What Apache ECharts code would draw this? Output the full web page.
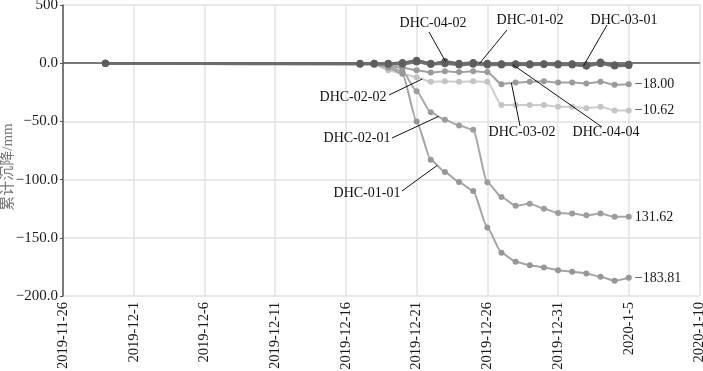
<!DOCTYPE html>
<html><head><meta charset="utf-8">
<script src="https://cdn.jsdelivr.net/npm/echarts@6/dist/echarts.min.js"></script>
<style>html,body{margin:0;padding:0;background:#fff}#c{width:703px;height:371px}</style>
</head><body><div id="c"></div>
<script>
// ---------- data ----------
const dates = ['2019-11-29','2019-12-17','2019-12-18','2019-12-19','2019-12-20','2019-12-21','2019-12-22','2019-12-23','2019-12-24','2019-12-25','2019-12-26','2019-12-27','2019-12-28','2019-12-29','2019-12-30','2019-12-31','2020-01-01','2020-01-02','2020-01-03','2020-01-04','2020-01-05'];
const dhc0202 = [0, 0, -1, -6, -9, -12, -16, -15.5, -16, -15.5, -16, -36, -36, -36, -36, -37.4, -37.4, -38.6, -37.4, -40.7, -40.7];
const dhc0302 = [0, 0, -0.5, -2, -4, -6, -8, -7, -7.5, -7, -7.5, -18, -16.6, -16, -15.5, -16.6, -16.6, -17.4, -16, -18.6, -18];
const dhc0201 = [0, 0, -1, -3, -7, -24, -42.2, -48.6, -53.5, -57.2, -102.2, -115, -122.4, -120.7, -125, -128.7, -129.2, -130.7, -129.2, -132, -132];
const dhc0101 = [0, 0, -1, -4, -9, -50, -82.9, -93.5, -102.1, -109.8, -141.1, -162.9, -170.6, -173.5, -175.5, -177.8, -179.2, -180.6, -183.5, -186.9, -184.4];
const dhc0402 = [0, -0.5, -0.5, -0.5, 0, 2.5, -0.5, 1.5, 0, 0.5, 0, -1, -1, -1, -1, -1, -1, -1.5, 0.5, -2, -1.5];
const dhc0102 = [0, 0, 0, 0, 0.5, 2, 0, 0.5, -0.5, 0, -0.5, -0.5, -0.5, -0.5, -0.5, -0.5, -1, -2.5, 1, -1.5, -1];
const dhc0301 = [0, -1, -1, -1, -0.5, 1.5, -1, 0, -1, -0.5, -1, -1, -1.5, -1, -1, -1.5, -1.5, -2.5, -0.5, -2.5, -2];
const dhc0404 = [0, -0.5, 0, -0.5, -1, 1, -1, -0.5, -1.5, -1, -1.5, -1.5, -1, -1.5, -1, -1, -0.5, -1.5, 0, -1.5, -1];
const xTickLabels = ['2019-11-26','2019-12-1','2019-12-6','2019-12-11','2019-12-16','2019-12-21','2019-12-26','2019-12-31','2020-1-5','2020-1-10'];
const yTickLabels = ['\u2212200.0','\u2212150.0','\u2212100.0','\u221250.0','0.0','500'];
const endLabels = {'DHC-02-02':'\u221210.62','DHC-03-02':'\u221218.00','DHC-02-01':'131.62','DHC-01-01':'\u2212183.81'};
// annotation: name, anchor day (days after 2019-11-26)
const annNames = ['DHC-04-02','DHC-01-02','DHC-03-01','DHC-02-02','DHC-02-01','DHC-01-01','DHC-03-02','DHC-04-04'];
const annDays  = [27.05, 29.45, 36.8, 25.4, 26.55, 26.46, 31.7, 31.79];

// ---------- layout ----------
const annText  = [[433,23],[530,20],[624,20],[353,97],[357,138],[367,193],[522,132],[606,132]];
const annStart = [[429,32],[507,30],[607,25],[389,95],[392,138],[402,191],[520,126],[602,127]];

const DAY = 86400000;
const origin = Date.parse('2019-11-26T00:00:00Z');
const xs = dates.map(d => (Date.parse(d + 'T00:00:00Z') - origin) / DAY);
const FONT = '"Liberation Serif","Times New Roman",serif';

const seriesDefs = [
  ['DHC-02-02', dhc0202, '#cdcdcd', '#c4c4c4', 6, 2],
  ['DHC-03-02', dhc0302, '#a2a2a2', '#9a9a9a', 6, 2],
  ['DHC-02-01', dhc0201, '#a8a8a8', '#9c9c9c', 6, 2],
  ['DHC-01-01', dhc0101, '#a3a3a3', '#979797', 6, 2],
  ['DHC-04-04', dhc0404, '#7a7a7a', '#6a6a6a', 7, 2.5],
  ['DHC-03-01', dhc0301, '#757575', '#666666', 7, 2.5],
  ['DHC-01-02', dhc0102, '#707070', '#626262', 7, 2.5],
  ['DHC-04-02', dhc0402, '#6c6c6c', '#5e5e5e', 7, 2.5]
];
const seriesMap = {};
seriesDefs.forEach(s => seriesMap[s[0]] = s[1]);

const chart = echarts.init(document.getElementById('c'), null, {renderer: 'canvas'});
const series = seriesDefs.map(([name, vals, lc, pc, ss, lw]) => ({
  name, type: 'line',
  data: vals.map((v, i) => [xs[i], v]),
  smooth: 0.2, smoothMonotone: 'x',
  symbol: 'circle', symbolSize: ss,
  lineStyle: {color: lc, width: lw},
  itemStyle: {color: pc},
  emphasis: {disabled: true},
  animation: false,
  endLabel: endLabels[name] ? {
    show: true, formatter: () => endLabels[name], distance: 6,
    color: '#1a1a1a', fontFamily: FONT, fontSize: 14
  } : {show: false}
}));

chart.setOption({
  animation: false,
  backgroundColor: '#fff',
  grid: {left: 63, right: 3.5, top: 5, bottom: 75, containLabel: false, outerBoundsMode: 'none'},
  xAxis: {
    type: 'value', min: 0, max: 45, interval: 5,
    axisLine: {show: true, lineStyle: {color: '#555', width: 1.5}},
    axisTick: {show: false},
    splitLine: {show: true, lineStyle: {color: '#e2e2e2', width: 1.5}},
    axisLabel: {
      rotate: 90, margin: 6, color: '#1a1a1a', fontFamily: FONT, fontSize: 14.5,
      hideOverlap: false,
      formatter: v => xTickLabels[Math.round(v / 5)] || ''
    }
  },
  yAxis: {
    type: 'value', min: -200, max: 50, interval: 50,
    name: '累计沉降/mm', nameLocation: 'middle', nameGap: 47, nameRotate: 90,
    nameMoveOverlap: false,
    nameTextStyle: {color: '#777', fontSize: 15, fontFamily: '"Liberation Serif","Noto Sans CJK SC",serif', padding: [0, 33, 0, 0]},
    axisLine: {show: true, lineStyle: {color: '#555', width: 1.5}},
    axisTick: {show: true, length: 3, lineStyle: {color: '#555'}},
    splitLine: {show: true, lineStyle: {color: '#e2e2e2', width: 1.5}},
    axisLabel: {
      margin: 5, color: '#1a1a1a', fontFamily: FONT, fontSize: 15,
      formatter: v => yTickLabels[Math.round((v + 200) / 50)]
    }
  },
  series
});

function interp(vals, day) {
  for (let i = 0; i < xs.length - 1; i++) {
    if (day >= xs[i] && day <= xs[i + 1]) {
      const t = (day - xs[i]) / (xs[i + 1] - xs[i]);
      return vals[i] + t * (vals[i + 1] - vals[i]);
    }
  }
  return vals[vals.length - 1];
}
const graphic = [];
annNames.forEach((n, k) => {
  const v = interp(seriesMap[n], annDays[k]);
  const p = chart.convertToPixel({gridIndex: 0}, [annDays[k], v]);
  graphic.push({type: 'line', silent: true, z: 100,
    shape: {x1: annStart[k][0], y1: annStart[k][1], x2: p[0], y2: p[1]},
    style: {stroke: '#111', lineWidth: 1}});
  graphic.push({type: 'text', silent: true, z: 100, x: annText[k][0], y: annText[k][1],
    style: {text: n, fill: '#111', font: '14px ' + FONT, align: 'center', verticalAlign: 'middle'}});
});
chart.setOption({graphic});
</script></body></html>
